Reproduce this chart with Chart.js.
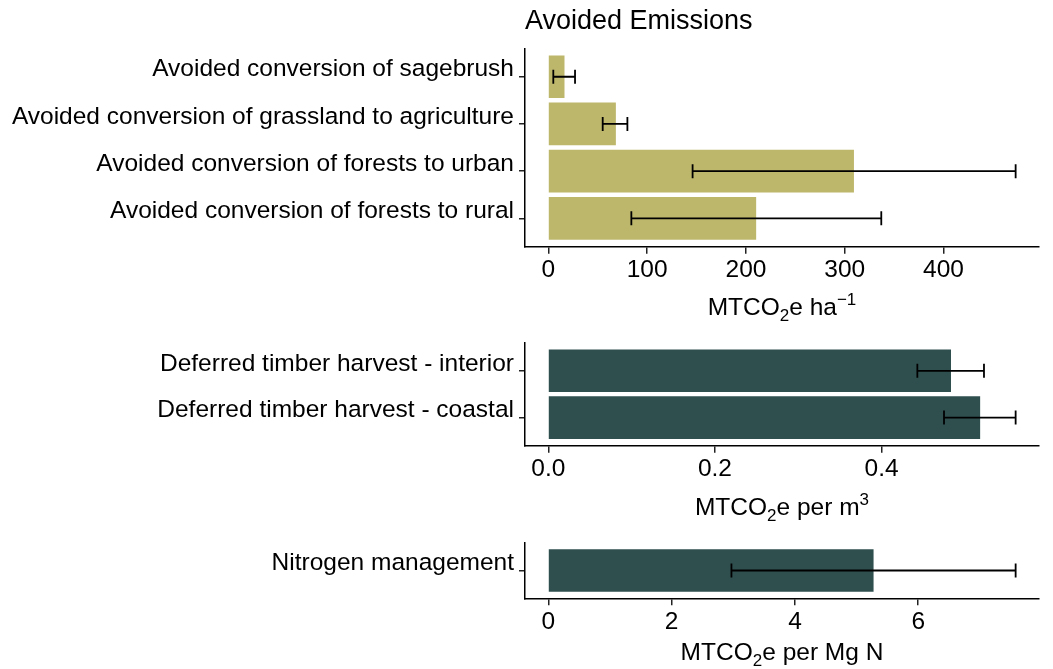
<!DOCTYPE html>
<html>
<head>
<meta charset="utf-8">
<title>Avoided Emissions</title>
<script src="https://cdn.jsdelivr.net/npm/chart.js@4.4.0/dist/chart.umd.min.js"></script>
<style>
    body { margin: 0; background: #fff; }
    #contenedor { position: relative; width: 1053px; height: 669px; overflow: hidden; }
    #contenedor canvas { position: absolute; left: 0; }
</style>
</head>
<body>
<div id="contenedor">
    <canvas id="panel-emisiones" width="1053" height="330" style="top:0"></canvas>
    <canvas id="panel-madera" width="1053" height="210" style="top:320px"></canvas>
    <canvas id="panel-nitrogeno" width="1053" height="149" style="top:520px"></canvas>
</div>
<script>
// Datos
const emisionesCategorias = [
    'Avoided conversion of sagebrush',
    'Avoided conversion of grassland to agriculture',
    'Avoided conversion of forests to urban',
    'Avoided conversion of forests to rural'
];
const emisionesValores = [16, 68, 309, 210];
const emisionesBajo = [5, 55, 146, 84];
const emisionesAlto = [27, 80, 473, 337];
const emisionesTicks = [0, 100, 200, 300, 400];

const maderaCategorias = [
    'Deferred timber harvest - interior',
    'Deferred timber harvest - coastal'
];
const maderaValores = [0.483, 0.518];
const maderaBajo = [0.443, 0.475];
const maderaAlto = [0.523, 0.561];
const maderaTicks = [0, 0.2, 0.4];

const nitrogenoCategorias = ['Nitrogen management'];
const nitrogenoValores = [5.27];
const nitrogenoBajo = [2.97];
const nitrogenoAlto = [7.58];
const nitrogenoTicks = [0, 2, 4, 6];

const FUENTE = "'Liberation Sans', Arial, sans-serif";
const COLOR_TEXTO = '#000';

function dibujarTituloEje(ctx, partes, cx, baseY) {
    // Texto con subíndices / superíndices (MTCO2e ...)
    let total = 0;
    partes.forEach(p => {
        ctx.font = (p.tipo ? 17 : 24.5) + 'px ' + FUENTE;
        p.w = ctx.measureText(p.t).width;
        total += p.w;
    });
    let x = cx - total / 2;
    ctx.save();
    ctx.fillStyle = COLOR_TEXTO;
    ctx.textAlign = 'left';
    ctx.textBaseline = 'alphabetic';
    partes.forEach(p => {
        ctx.font = (p.tipo ? 17 : 24.5) + 'px ' + FUENTE;
        const dy = p.tipo === 'sub' ? 6 : (p.tipo === 'sup' ? -10 : 0);
        ctx.fillText(p.t, x, baseY + dy);
        x += p.w;
    });
    ctx.restore();
}

function crearPanel(id, cfg) {
    const ctx = document.getElementById(id).getContext('2d');
    const maxAlto = Math.max(...cfg.alto);
    const n = cfg.categorias.length;

    const barrasError = {
        id: 'barrasError',
        afterDatasetsDraw(chart) {
            const { ctx, scales: { x, y } } = chart;
            ctx.save();
            ctx.strokeStyle = '#000';
            ctx.lineWidth = 1.8;
            cfg.bajo.forEach((b, i) => {
                const py = y.getPixelForValue(i);
                const x1 = x.getPixelForValue(b);
                const x2 = x.getPixelForValue(cfg.alto[i]);
                ctx.beginPath();
                ctx.moveTo(x1, py); ctx.lineTo(x2, py);
                ctx.moveTo(x1, py - 7); ctx.lineTo(x1, py + 7);
                ctx.moveTo(x2, py - 7); ctx.lineTo(x2, py + 7);
                ctx.stroke();
            });
            ctx.restore();
        }
    };

    const tituloEje = {
        id: 'tituloEje',
        afterDraw(chart) {
            const a = chart.chartArea;
            dibujarTituloEje(chart.ctx, cfg.unidad, (a.left + a.right) / 2, a.bottom + cfg.offsetUnidad);
        }
    };

    return new Chart(ctx, {
        type: 'bar',
        data: {
            datasets: [{
                data: cfg.valores.map((v, i) => ({ x: v, y: i })),
                backgroundColor: cfg.color,
                borderWidth: 0,
                barThickness: 42
            }]
        },
        options: {
            indexAxis: 'y',
            responsive: false,
            animation: false,
            layout: { padding: { top: cfg.paddingTop, right: 14, left: 0, bottom: 0 } },
            plugins: {
                legend: { display: false },
                tooltip: { enabled: false },
                title: {
                    display: !!cfg.titulo,
                    text: cfg.titulo || '',
                    align: 'start',
                    fullSize: false,
                    color: COLOR_TEXTO,
                    font: { family: FUENTE, size: 27, weight: 'normal' },
                    padding: { top: 5, bottom: 11 }
                }
            },
            scales: {
                y: {
                    type: 'linear',
                    reverse: true,
                    offset: false,
                    min: -0.6,
                    max: n - 0.4,
                    afterBuildTicks: s => { s.ticks = cfg.categorias.map((c, i) => ({ value: i })); },
                    afterFit: s => { s.width = 525; },
                    ticks: {
                        callback: v => cfg.categorias[Math.round(v)],
                        color: COLOR_TEXTO,
                        padding: 5,
                        labelOffset: -7,
                        font: { family: FUENTE, size: 24.5 }
                    },
                    grid: { offset: false, drawOnChartArea: false, drawTicks: true, tickLength: 6, color: '#222', lineWidth: 1.5 },
                    border: { display: true, color: '#000', width: 1.5 }
                },
                x: {
                    type: 'linear',
                    min: -0.05 * maxAlto,
                    max: 1.05 * maxAlto,
                    afterBuildTicks: s => { s.ticks = cfg.ticks.map(v => ({ value: v })); },
                    afterFit: s => { s.height = cfg.alturaEje; },
                    ticks: {
                        callback: v => cfg.formato(v),
                        color: COLOR_TEXTO,
                        padding: 2,
                        maxRotation: 0,
                        font: { family: FUENTE, size: 24.5 }
                    },
                    grid: { drawOnChartArea: false, drawTicks: true, tickLength: 7, color: '#222', lineWidth: 1.5 },
                    border: { display: true, color: '#000', width: 1.5 }
                }
            }
        },
        plugins: [barrasError, tituloEje]
    });
}

crearPanel('panel-emisiones', {
    categorias: emisionesCategorias,
    valores: emisionesValores,
    bajo: emisionesBajo,
    alto: emisionesAlto,
    ticks: emisionesTicks,
    formato: v => String(v),
    color: '#BDB76B',
    titulo: 'Avoided Emissions',
    paddingTop: 0,
    alturaEje: 83.3,
    offsetUnidad: 68,
    unidad: [{ t: 'MTCO' }, { t: '2', tipo: 'sub' }, { t: 'e ha' }, { t: '\u22121', tipo: 'sup' }]
});

// El lienzo empieza antes para que Chart.js no empuje el área por las etiquetas
crearPanel('panel-madera', {
    categorias: maderaCategorias,
    valores: maderaValores,
    bajo: maderaBajo,
    alto: maderaAlto,
    ticks: maderaTicks,
    formato: v => v.toFixed(1),
    color: '#2F4F4F',
    paddingTop: 22.7,
    alturaEje: 84.3,
    offsetUnidad: 69,
    unidad: [{ t: 'MTCO' }, { t: '2', tipo: 'sub' }, { t: 'e per m' }, { t: '3', tipo: 'sup' }]
});

crearPanel('panel-nitrogeno', {
    categorias: nitrogenoCategorias,
    valores: nitrogenoValores,
    bajo: nitrogenoBajo,
    alto: nitrogenoAlto,
    ticks: nitrogenoTicks,
    formato: v => String(v),
    color: '#2F4F4F',
    paddingTop: 22.7,
    alturaEje: 70.7,
    offsetUnidad: 62,
    unidad: [{ t: 'MTCO' }, { t: '2', tipo: 'sub' }, { t: 'e per Mg N' }]
});
</script>
</body>
</html>
